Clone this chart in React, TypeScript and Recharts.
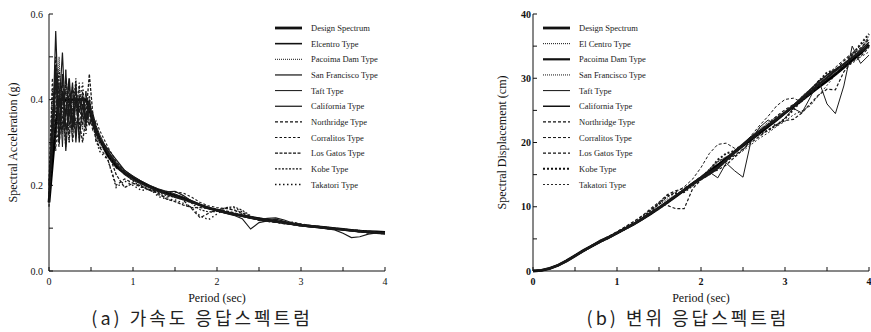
import React from 'react';
import { LineChart, Line, XAxis, YAxis, Legend } from 'recharts';

// periods (sec) for the acceleration spectra
const periodsA = [
  0, 0.04, 0.08, 0.12, 0.16, 0.2, 0.24, 0.28, 0.32, 0.36, 0.4, 0.44, 0.48, 0.52, 0.56, 0.6,
  0.7, 0.8, 0.9, 1.0,
  1.1, 1.2, 1.3, 1.4, 1.5, 1.6, 1.7, 1.8, 1.9, 2.0,
  2.1, 2.2, 2.3, 2.4, 2.5, 2.6, 2.7, 2.8, 2.9, 3.0,
  3.1, 3.2, 3.3, 3.4, 3.5, 3.6, 3.7, 3.8, 3.9, 4.0,
];

// spectral acceleration (g)
const saDesign = [
  0.16, 0.25, 0.34, 0.40, 0.40, 0.40, 0.40, 0.40, 0.40, 0.40, 0.40, 0.40, 0.38, 0.35, 0.33, 0.31,
  0.27, 0.245, 0.228, 0.218,
  0.207, 0.197, 0.189, 0.182, 0.176, 0.17, 0.162, 0.154, 0.147, 0.142,
  0.137, 0.133, 0.129, 0.125, 0.122, 0.119, 0.116, 0.113, 0.11, 0.107,
  0.105, 0.103, 0.101, 0.099, 0.097, 0.095, 0.093, 0.092, 0.091, 0.09,
];
const saElcentro = [
  0.20, 0.33, 0.48, 0.30, 0.42, 0.36, 0.45, 0.33, 0.40, 0.37, 0.41, 0.35, 0.38, 0.36, 0.33, 0.31,
  0.28, 0.25, 0.23, 0.215,
  0.205, 0.195, 0.187, 0.18, 0.174, 0.168, 0.161, 0.153, 0.147, 0.141,
  0.136, 0.132, 0.128, 0.124, 0.12, 0.118, 0.115, 0.112, 0.109, 0.106,
  0.104, 0.102, 0.1, 0.098, 0.096, 0.094, 0.092, 0.09, 0.089, 0.088,
];
const saPacoima = [
  0.18, 0.40, 0.30, 0.50, 0.32, 0.44, 0.30, 0.42, 0.37, 0.43, 0.33, 0.39, 0.37, 0.34, 0.32, 0.30,
  0.265, 0.24, 0.232, 0.22,
  0.21, 0.198, 0.19, 0.183, 0.178, 0.172, 0.164, 0.156, 0.149, 0.143,
  0.139, 0.134, 0.13, 0.127, 0.124, 0.12, 0.117, 0.114, 0.111, 0.108,
  0.106, 0.104, 0.102, 0.1, 0.098, 0.096, 0.094, 0.092, 0.09, 0.089,
];
const saSanFrancisco = [
  0.17, 0.30, 0.56, 0.34, 0.46, 0.28, 0.40, 0.35, 0.44, 0.30, 0.39, 0.34, 0.40, 0.35, 0.32, 0.31,
  0.275, 0.25, 0.225, 0.212,
  0.203, 0.195, 0.186, 0.179, 0.172, 0.166, 0.16, 0.153, 0.146, 0.14,
  0.135, 0.13, 0.122, 0.098, 0.113, 0.117, 0.121, 0.116, 0.11, 0.106,
  0.103, 0.101, 0.099, 0.096, 0.088, 0.078, 0.08, 0.086, 0.089, 0.087,
];
const saTaft = [
  0.16, 0.36, 0.38, 0.44, 0.29, 0.47, 0.34, 0.38, 0.32, 0.40, 0.36, 0.42, 0.34, 0.37, 0.34, 0.32,
  0.28, 0.255, 0.235, 0.222,
  0.21, 0.2, 0.192, 0.186, 0.18, 0.172, 0.163, 0.155, 0.148, 0.142,
  0.138, 0.134, 0.13, 0.126, 0.122, 0.12, 0.117, 0.114, 0.111, 0.108,
  0.106, 0.104, 0.101, 0.099, 0.097, 0.095, 0.093, 0.092, 0.09, 0.089,
];
const saCalifornia = [
  0.19, 0.28, 0.44, 0.38, 0.51, 0.33, 0.36, 0.44, 0.30, 0.41, 0.38, 0.36, 0.40, 0.34, 0.32, 0.31,
  0.285, 0.26, 0.235, 0.22,
  0.206, 0.196, 0.188, 0.185, 0.186, 0.176, 0.163, 0.154, 0.148, 0.143,
  0.138, 0.133, 0.128, 0.123, 0.12, 0.123, 0.124, 0.119, 0.112, 0.108,
  0.105, 0.103, 0.101, 0.099, 0.097, 0.094, 0.092, 0.091, 0.09, 0.088,
];
const saNorthridge = [
  0.15, 0.38, 0.34, 0.29, 0.40, 0.42, 0.30, 0.43, 0.39, 0.33, 0.42, 0.37, 0.34, 0.36, 0.30, 0.29,
  0.26, 0.2, 0.215, 0.205,
  0.195, 0.198, 0.178, 0.172, 0.178, 0.165, 0.145, 0.124, 0.135, 0.143,
  0.147, 0.142, 0.134, 0.124, 0.118, 0.116, 0.114, 0.11, 0.108, 0.105,
  0.104, 0.103, 0.099, 0.097, 0.096, 0.094, 0.092, 0.089, 0.088, 0.086,
];
const saCorralitos = [
  0.21, 0.45, 0.28, 0.41, 0.36, 0.31, 0.43, 0.30, 0.36, 0.44, 0.34, 0.40, 0.36, 0.33, 0.35, 0.33,
  0.29, 0.255, 0.232, 0.216,
  0.2, 0.19, 0.186, 0.186, 0.184, 0.182, 0.172, 0.16, 0.152, 0.148,
  0.146, 0.143, 0.136, 0.127, 0.12, 0.116, 0.114, 0.112, 0.114, 0.11,
  0.107, 0.105, 0.102, 0.099, 0.096, 0.094, 0.091, 0.089, 0.088, 0.086,
];
const saLosGatos = [
  0.17, 0.32, 0.50, 0.40, 0.33, 0.45, 0.38, 0.31, 0.42, 0.35, 0.30, 0.36, 0.46, 0.37, 0.32, 0.30,
  0.28, 0.225, 0.195, 0.205,
  0.198, 0.188, 0.182, 0.168, 0.162, 0.154, 0.148, 0.148, 0.146, 0.144,
  0.141, 0.136, 0.13, 0.125, 0.12, 0.117, 0.115, 0.113, 0.111, 0.109,
  0.106, 0.104, 0.102, 0.1, 0.098, 0.096, 0.095, 0.093, 0.091, 0.09,
];
const saKobe = [
  0.18, 0.42, 0.36, 0.47, 0.38, 0.29, 0.41, 0.36, 0.45, 0.31, 0.37, 0.33, 0.39, 0.34, 0.31, 0.29,
  0.28, 0.24, 0.228, 0.21,
  0.197, 0.188, 0.183, 0.176, 0.172, 0.167, 0.158, 0.143, 0.138, 0.139,
  0.148, 0.15, 0.142, 0.129, 0.119, 0.116, 0.114, 0.111, 0.109, 0.106,
  0.104, 0.102, 0.1, 0.099, 0.097, 0.095, 0.093, 0.091, 0.09, 0.088,
];
const saTakatori = [
  0.16, 0.29, 0.42, 0.33, 0.44, 0.39, 0.32, 0.40, 0.34, 0.38, 0.44, 0.32, 0.41, 0.35, 0.31, 0.28,
  0.26, 0.195, 0.21, 0.2,
  0.188, 0.192, 0.174, 0.168, 0.166, 0.158, 0.148, 0.128, 0.12, 0.133,
  0.146, 0.148, 0.138, 0.128, 0.119, 0.117, 0.115, 0.112, 0.11, 0.108,
  0.105, 0.103, 0.101, 0.099, 0.097, 0.095, 0.093, 0.091, 0.09, 0.088,
];

// periods (sec) for the displacement spectra
const periodsB = [
  0, 0.1, 0.2, 0.3, 0.4, 0.5, 0.6, 0.7, 0.8, 0.9, 1.0,
  1.1, 1.2, 1.3, 1.4, 1.5, 1.6, 1.7, 1.8, 1.9, 2.0,
  2.1, 2.2, 2.3, 2.4, 2.5, 2.6, 2.7, 2.8, 2.9, 3.0,
  3.1, 3.2, 3.3, 3.4, 3.5, 3.6, 3.7, 3.8, 3.9, 4.0,
];

// spectral displacement (cm)
const sdDesign = [
  0, 0.1, 0.4, 0.9, 1.6, 2.4, 3.2, 3.9, 4.6, 5.2, 5.9,
  6.6, 7.3, 8.1, 8.9, 9.8, 10.7, 11.6, 12.6, 13.6, 14.5,
  15.5, 16.5, 17.5, 18.5, 19.5, 20.5, 21.5, 22.5, 23.5, 24.6,
  25.6, 26.6, 27.6, 28.6, 29.6, 30.6, 31.7, 32.8, 33.9, 35.2,
];
const sdElCentro = [
  0, 0.1, 0.5, 1.0, 1.7, 2.5, 3.2, 3.8, 4.5, 5.3, 6.0,
  6.7, 7.4, 8.3, 9.1, 9.9, 10.9, 11.9, 12.7, 13.5, 14.2,
  15.6, 17.0, 17.7, 18.6, 19.8, 21.0, 22.2, 22.8, 23.4, 24.4,
  25.8, 27.2, 28.3, 29.2, 30.0, 30.8, 32.0, 33.5, 34.6, 36.0,
];
const sdPacoima = [
  0, 0.1, 0.4, 0.9, 1.5, 2.3, 3.1, 3.9, 4.7, 5.3, 5.9,
  6.6, 7.3, 8.1, 9.0, 9.9, 10.8, 11.7, 12.6, 13.5, 14.3,
  15.1, 16.0, 17.2, 18.4, 19.6, 20.8, 21.8, 22.7, 23.6, 24.6,
  25.7, 26.8, 27.9, 29.0, 30.1, 31.2, 32.2, 33.2, 34.1, 35.0,
];
const sdSanFrancisco = [
  0, 0.1, 0.4, 0.8, 1.6, 2.4, 3.3, 4.0, 4.6, 5.1, 5.8,
  6.5, 7.3, 8.3, 9.4, 10.3, 11.2, 11.8, 12.4, 13.2, 14.3,
  15.8, 17.0, 17.8, 18.4, 19.4, 20.6, 22.0, 23.2, 24.0, 24.8,
  25.6, 26.6, 27.8, 29.0, 29.8, 30.8, 32.0, 33.2, 34.4, 36.6,
];
const sdTaft = [
  0, 0.1, 0.4, 0.9, 1.6, 2.4, 3.2, 3.9, 4.6, 5.2, 5.9,
  6.6, 7.3, 8.1, 8.9, 9.7, 10.7, 11.7, 12.7, 13.7, 14.5,
  15.4, 14.5, 16.8, 15.6, 14.6, 20.5, 22.4, 23.5, 22.6, 23.8,
  25.3, 24.6, 27.0, 29.7, 26.0, 24.5, 28.8, 35.0, 32.3, 33.6,
];
const sdCalifornia = [
  0, 0.1, 0.4, 0.9, 1.6, 2.4, 3.1, 3.8, 4.5, 5.2, 5.9,
  6.6, 7.4, 8.2, 9.1, 9.9, 10.8, 11.7, 12.7, 13.6, 14.6,
  15.4, 16.2, 17.4, 18.7, 19.8, 20.9, 21.8, 22.8, 23.8, 24.7,
  25.8, 27.0, 28.2, 29.5, 30.5, 31.4, 32.2, 33.2, 34.4, 35.6,
];
const sdNorthridge = [
  0, 0.1, 0.4, 0.9, 1.6, 2.4, 3.2, 4.0, 4.7, 5.4, 6.1,
  6.9, 7.7, 8.6, 9.7, 10.7, 11.9, 12.5, 12.9, 13.7, 14.7,
  15.3, 15.7, 16.5, 17.7, 18.9, 20.3, 21.7, 22.9, 24.1, 25.1,
  25.9, 26.5, 27.5, 28.7, 29.9, 31.3, 32.7, 33.7, 34.7, 36.1,
];
const sdCorralitos = [
  0, 0.1, 0.4, 0.9, 1.6, 2.4, 3.2, 3.9, 4.6, 5.3, 6.1,
  6.9, 7.7, 8.5, 9.5, 10.5, 11.5, 12.3, 13.1, 14.3, 16.1,
  18.3, 19.7, 19.9, 19.1, 19.5, 21.1, 22.7, 24.1, 25.7, 26.7,
  26.9, 26.3, 27.5, 29.1, 30.5, 31.7, 32.9, 33.9, 35.1, 36.3,
];
const sdLosGatos = [
  0, 0.1, 0.4, 0.9, 1.5, 2.3, 3.1, 3.8, 4.5, 5.1, 5.8,
  6.5, 7.2, 8.0, 8.9, 10.6, 10.2, 9.7, 9.7, 12.8, 14.2,
  15.0, 16.0, 17.0, 18.0, 19.0, 20.0, 21.0, 22.0, 22.8, 23.4,
  23.6, 24.6, 26.0, 27.4, 28.3, 28.2, 31.0, 32.6, 33.4, 34.8,
];
const sdKobe = [
  0, 0.1, 0.4, 0.9, 1.6, 2.4, 3.1, 3.9, 4.6, 5.2, 5.9,
  6.6, 7.3, 8.3, 9.4, 10.5, 11.7, 12.1, 12.3, 13.3, 14.5,
  15.7, 17.3, 18.3, 18.7, 19.5, 20.7, 21.3, 21.9, 22.7, 23.7,
  25.1, 26.6, 28.1, 29.5, 30.9, 31.3, 31.9, 33.7, 35.3, 36.9,
];
const sdTakatori = [
  0, 0.1, 0.4, 0.9, 1.6, 2.4, 3.1, 3.8, 4.5, 5.1, 5.8,
  6.5, 7.2, 8.0, 8.8, 9.6, 10.5, 11.5, 12.5, 13.6, 14.7,
  15.9, 17.1, 17.7, 17.9, 18.7, 19.7, 20.7, 21.5, 22.5, 23.3,
  24.3, 24.9, 25.7, 27.3, 28.9, 30.5, 31.7, 32.3, 33.3, 34.1,
];

const accNames = [
  'Design Spectrum', 'Elcentro Type', 'Pacoima Dam Type', 'San Francisco Type', 'Taft Type',
  'California Type', 'Northridge Type', 'Corralitos Type', 'Los Gatos Type', 'Kobe Type', 'Takatori Type',
];
const dispNames = [
  'Design Spectrum', 'El Centro Type', 'Pacoima Dam Type', 'San Francisco Type', 'Taft Type',
  'California Type', 'Northridge Type', 'Corralitos Type', 'Los Gatos Type', 'Kobe Type', 'Takatori Type',
];

const xTicks = [0, 0.5, 1, 1.5, 2, 2.5, 3, 3.5, 4];
const saTicks = [0, 0.1, 0.2, 0.3, 0.4, 0.5, 0.6];
const sdTicks = [0, 5, 10, 15, 20, 25, 30, 35, 40];

const FONT = '"Liberation Serif", "Times New Roman", serif';

// line width / dash per series, same order as the names
const accStyles = [
  { w: 2.8, dash: '' },
  { w: 1.6, dash: '' },
  { w: 1.0, dash: '1 1' },
  { w: 1.2, dash: '' },
  { w: 1.0, dash: '' },
  { w: 1.2, dash: '' },
  { w: 1.2, dash: '3 2' },
  { w: 1.1, dash: '2.5 2' },
  { w: 1.3, dash: '3 1.5' },
  { w: 1.2, dash: '2 1.5' },
  { w: 1.4, dash: '1.5 2.5' },
];
const dispStyles = [
  { w: 2.8, dash: '' },
  { w: 1.0, dash: '1 1' },
  { w: 2.2, dash: '' },
  { w: 1.0, dash: '1 1' },
  { w: 1.0, dash: '' },
  { w: 1.5, dash: '' },
  { w: 1.2, dash: '3 2' },
  { w: 1.0, dash: '3 2' },
  { w: 1.2, dash: '3 2' },
  { w: 2.0, dash: '2 2' },
  { w: 0.9, dash: '2 2' },
];

const buildRows = (periods: number[], series: number[][]) =>
  periods.map((t, i) => {
    const row: Record<string, number> = { t };
    series.forEach((s, j) => {
      row['s' + j] = s[i];
    });
    return row;
  });

const accData = buildRows(periodsA, [
  saDesign, saElcentro, saPacoima, saSanFrancisco, saTaft, saCalifornia,
  saNorthridge, saCorralitos, saLosGatos, saKobe, saTakatori,
]);
const dispData = buildRows(periodsB, [
  sdDesign, sdElCentro, sdPacoima, sdSanFrancisco, sdTaft, sdCalifornia,
  sdNorthridge, sdCorralitos, sdLosGatos, sdKobe, sdTakatori,
]);

const LegendBox = ({ names, styles }: { names: string[]; styles: { w: number; dash: string }[] }) => (
  <svg width={150} height={176} style={{ display: 'block' }}>
    {names.map((n, i) => {
      const y = 8 + i * 15.65;
      return (
        <g key={n}>
          <line x1={2} x2={29} y1={y} y2={y} stroke="#111" strokeWidth={styles[i].w} strokeDasharray={styles[i].dash || undefined} />
          <text x={38} y={y + 3} fontSize={8.5} fontFamily={FONT} fill="#222">{n}</text>
        </g>
      );
    })}
  </svg>
);

interface ChartProps {
  data: Record<string, number>[];
  names: string[];
  styles: { w: number; dash: string }[];
  width: number;
  marginRight: number;
  yAxisWidth: number;
  yDomain: [number, number];
  yTicks: number[];
  yFmt: (v: number) => string;
  yLabel: string;
  yLabelOffset: number;
  yTickMargin: number;
  legendLeft: number;
  bold?: boolean;
}

const SpectrumChart = (p: ChartProps) => {
  const tickStyle = { fontSize: 10, fontFamily: FONT, fill: '#111', fontWeight: p.bold ? 700 : 400 };
  const xFmt = (v: number) => (Number.isInteger(v) ? String(v) : '');
  return (
    <LineChart width={p.width} height={305} data={p.data} margin={{ top: 14, right: p.marginRight, left: 0, bottom: 0 }}>
      <XAxis
        dataKey="t"
        type="number"
        domain={[0, 4]}
        ticks={xTicks}
        tickFormatter={xFmt}
        height={34}
        tickSize={-4}
        tickMargin={11}
        stroke="#111"
        tick={tickStyle}
        label={{ value: 'Period (sec)', position: 'insideBottom', offset: 3, fontSize: 12, fontFamily: FONT, fill: '#111' }}
      />
      <XAxis xAxisId="top" orientation="top" type="number" domain={[0, 4]} ticks={xTicks} tickFormatter={() => ''} height={0} tickSize={-4} stroke="#111" />
      <YAxis
        type="number"
        domain={p.yDomain}
        ticks={p.yTicks}
        tickFormatter={p.yFmt}
        width={p.yAxisWidth}
        tickSize={-4}
        tickMargin={p.yTickMargin}
        stroke="#111"
        tick={tickStyle}
        label={{ value: p.yLabel, angle: -90, position: 'insideLeft', offset: p.yLabelOffset, style: { textAnchor: 'middle' }, fontSize: 12, fontFamily: FONT, fill: '#111' }}
      />
      <YAxis yAxisId="r" orientation="right" type="number" domain={p.yDomain} ticks={p.yTicks} tickFormatter={() => ''} width={0} tickSize={-4} stroke="#111" />
      <Legend
        layout="vertical"
        align="center"
        verticalAlign="middle"
        wrapperStyle={{ left: p.legendLeft, top: 20, width: 150 }}
        content={() => <LegendBox names={p.names} styles={p.styles} />}
      />
      {p.names.map((n, i) => (
        <Line
          key={n}
          name={n}
          dataKey={'s' + i}
          type="linear"
          stroke={i === 0 ? '#000' : '#1a1a1a'}
          strokeWidth={p.styles[i].w}
          strokeDasharray={p.styles[i].dash || undefined}
          dot={false}
          isAnimationActive={false}
        />
      ))}
    </LineChart>
  );
};

const captionStyle: React.CSSProperties = {
  position: 'absolute',
  top: 306,
  width: 400,
  textAlign: 'center',
  fontFamily: '"Noto Sans CJK KR", sans-serif',
  fontSize: 18,
  letterSpacing: 3,
  color: '#222',
  lineHeight: '22px',
};

export default function App() {
  return (
    <div style={{ position: 'absolute', left: 0, top: 0, width: 871, height: 332, overflow: 'hidden', background: '#fff' }}>
      <div style={{ position: 'absolute', left: 0, top: 0 }}>
        <SpectrumChart
          data={accData}
          names={accNames}
          styles={accStyles}
          width={435}
          marginRight={50}
          yAxisWidth={49}
          yDomain={[0, 0.6]}
          yTicks={saTicks}
          yFmt={(v) => (Math.round(v * 10) % 2 === 0 ? v.toFixed(1) : '')}
          yLabel="Spectral Acceleration (g)"
          yLabelOffset={13}
          yTickMargin={10}
          legendLeft={273}
        />
      </div>
      <div style={{ position: 'absolute', left: 435, top: 0 }}>
        <SpectrumChart
          data={dispData}
          names={dispNames}
          styles={dispStyles}
          width={454}
          marginRight={20}
          yAxisWidth={98}
          yDomain={[0, 40]}
          yTicks={sdTicks}
          yFmt={(v) => (v % 10 === 0 ? String(v) : '')}
          yLabel="Spectral Displacement (cm)"
          yLabelOffset={67}
          yTickMargin={6}
          legendLeft={106}
          bold
        />
      </div>
      <div style={{ ...captionStyle, left: 2 }}>(a) 가속도 응답스펙트럼</div>
      <div style={{ ...captionStyle, left: 488 }}>(b) 변위 응답스펙트럼</div>
    </div>
  );
}
